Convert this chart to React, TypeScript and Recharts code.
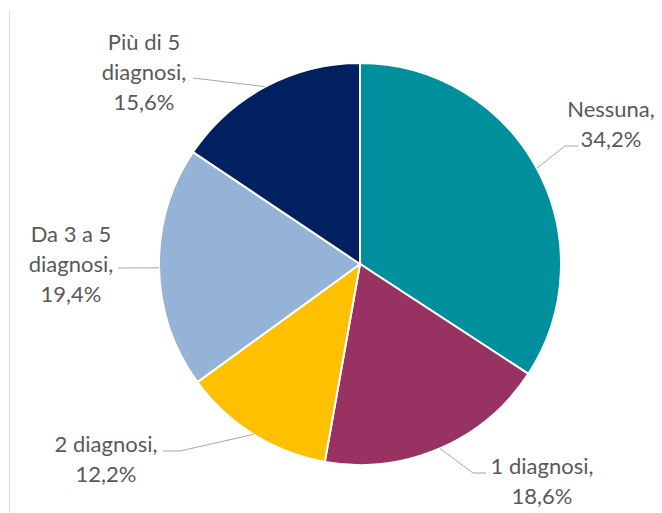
import React from 'react';
import { PieChart, Pie, Cell } from 'recharts';

// Distribuzione per numero di diagnosi
const categories = ['Nessuna', '1 diagnosi', '2 diagnosi', 'Da 3 a 5 diagnosi', 'Più di 5 diagnosi'];
const shares = [34.2, 18.6, 12.2, 19.4, 15.6];
const colors = ['#008F9C', '#983263', '#FFC000', '#95B3D7', '#002060'];

const data = categories.map((name, i) => ({ name, value: shares[i] }));

// Excel-style label placement, px relative to the pie centre
const labelLayout = [
    { tx: 251, ty: -147, elbow: [205, -118], end: [218, -118], breakAfter: 0 },
    { tx: 182, ty: 210, elbow: [113, 209], end: [126, 209], breakAfter: 0 },
    { tx: -254, ty: 188, elbow: [-180, 187], end: [-197, 187], breakAfter: 0 },
    { tx: -289, ty: -22, elbow: [-242, 4], end: [-242, 4], breakAfter: 4 },
    { tx: -216, ty: -214, elbow: [-167, -186], end: [-167, -186], breakAfter: 3 },
];

const RADIAN = Math.PI / 180;
const LINE_HEIGHT = 30;

const fmt = (v: number) => v.toFixed(1).replace('.', ',') + '%';

const renderLabel = (props: any) => {
    const { cx, cy, midAngle, outerRadius, index, name, value } = props;
    const layout = labelLayout[index];
    const ex = cx + outerRadius * Math.cos(-midAngle * RADIAN);
    const ey = cy + outerRadius * Math.sin(-midAngle * RADIAN);

    const words = String(name).split(' ');
    const lines = layout.breakAfter > 0
        ? [words.slice(0, layout.breakAfter).join(' '), words.slice(layout.breakAfter).join(' ') + ',']
        : [name + ','];
    lines.push(fmt(value));

    const pts = [
        [ex, ey],
        [cx + layout.elbow[0], cy + layout.elbow[1]],
        [cx + layout.end[0], cy + layout.end[1]],
    ];

    return (
        <g key={`label-${index}`}>
            <polyline
                points={pts.map((p) => p.join(',')).join(' ')}
                fill="none"
                stroke="#A6A6A6"
                strokeWidth={1}
            />
            <text
                x={cx + layout.tx}
                y={cy + layout.ty}
                textAnchor="middle"
                fill="#595959"
                fontSize={22}
                fontFamily="Lato, 'Liberation Sans', sans-serif"
            >
                {lines.map((l, i) => (
                    <tspan key={i} x={cx + layout.tx} dy={i === 0 ? 0 : LINE_HEIGHT}>{l}</tspan>
                ))}
            </text>
        </g>
    );
};

const App: React.FC = () => {
    return (
        <div style={{ position: 'absolute', left: 0, top: 0, width: 662, height: 513, background: '#fff' }}>
            {/* chart area border */}
            <div style={{ position: 'absolute', left: 9, top: 11, width: 1, height: 502, background: '#D9D9D9' }} />
            <PieChart width={662} height={513}>
                <Pie
                    data={data}
                    dataKey="value"
                    nameKey="name"
                    cx={355}
                    cy={259}
                    outerRadius={201}
                    startAngle={90}
                    endAngle={-270}
                    stroke="#FFFFFF"
                    strokeWidth={2}
                    label={renderLabel}
                    labelLine={false}
                    isAnimationActive={false}
                >
                    {data.map((d, i) => (
                        <Cell key={d.name} fill={colors[i]} />
                    ))}
                </Pie>
            </PieChart>
        </div>
    );
};

export default App;
